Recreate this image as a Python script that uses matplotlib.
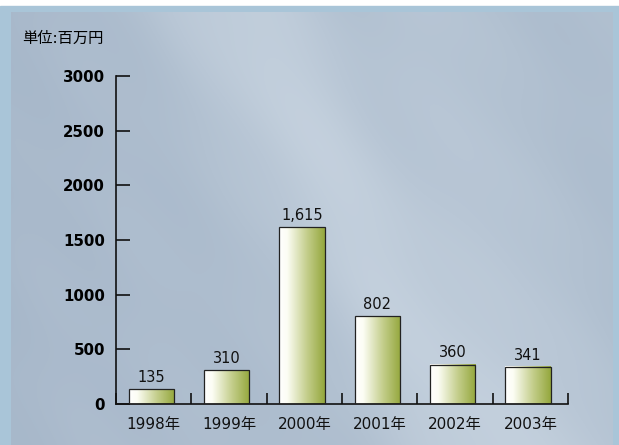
import matplotlib.pyplot as plt
import numpy as np
from matplotlib.colors import LinearSegmentedColormap
from matplotlib.patches import Rectangle

years = ['1998年', '1999年', '2000年', '2001年', '2002年', '2003年']
sales = [135, 310, 1615, 802, 360, 341]
sales_labels = ['135', '310', '1,615', '802', '360', '341']
yticks = [0, 500, 1000, 1500, 2000, 2500, 3000]

plt.rcParams['font.family'] = ['DejaVu Sans', 'Noto Sans CJK JP']

W, H = 619, 445
fig = plt.figure(figsize=(W / 100, H / 100), dpi=100)

# backdrop: white strip, pale blue frame, bluish marble panel
bg = fig.add_axes([0, 0, 1, 1])
bg.add_patch(Rectangle((0, 0), W, H, color='white', zorder=0))
bg.add_patch(Rectangle((0, 6), W, H - 6, color='#a9c5d8', zorder=0.5))

yy, xx = np.mgrid[0:H - 12, 0:602].astype(float)
d = xx - (230 + yy * 0.55)
band = np.exp(-(d / 90.0) ** 2)
band2 = np.exp(-((xx - (420 + yy * 0.35)) / 60.0) ** 2)
left_dark = np.exp(-xx / 140.0)
streak = 0.025 * np.sin(0.05 * (xx - 0.7 * yy)) * np.sin(0.017 * yy + 0.008 * xx)
tex = 0.45 + 0.28 * band + 0.12 * band2 - 0.10 * left_dark + streak
tex = np.clip(tex, 0, 1)
marble = LinearSegmentedColormap.from_list('marble', ['#93a6bd', '#b2c1d1', '#d6e0ea'])
bg.imshow(tex, cmap=marble, vmin=0, vmax=1, extent=[11, 613, H, 12],
          aspect='auto', interpolation='bilinear', zorder=2)
bg.set_xlim(0, W)
bg.set_ylim(H, 0)
bg.axis('off')

# chart area
ax = fig.add_axes([116 / W, 41 / H, (568 - 116) / W, (404 - 76) / H])
ax.set_facecolor('none')

bar_cmap = LinearSegmentedColormap.from_list(
    'bar', [(0, '#ffffff'), (0.18, '#fcfdf4'), (0.6, '#c5cf8e'), (1, '#94a73c')])
grad = np.linspace(0, 1, 256).reshape(1, -1)
width = 0.6
for i, v in enumerate(sales):
    x0 = i - width / 2 - 0.03
    ax.imshow(grad, cmap=bar_cmap, extent=[x0, x0 + width, 0, v],
              aspect='auto', zorder=2)
    ax.add_patch(Rectangle((x0, 0), width, v, fill=False, ec='#222222',
                           lw=0.9, zorder=3))
    ax.annotate(sales_labels[i], (x0 + width / 2, v), xytext=(0, 3),
                textcoords='offset points', ha='center', va='bottom',
                fontsize=10.5, color='#111111')

ax.set_xlim(-0.5, 5.5)
ax.set_ylim(0, 3000)

for s in ['top', 'right']:
    ax.spines[s].set_visible(False)
for s in ['left', 'bottom']:
    ax.spines[s].set_linewidth(1.2)
    ax.spines[s].set_color('#111111')

ax.set_yticks(yticks)
ax.set_yticklabels([str(t) for t in yticks], fontsize=10.8, fontweight='bold')
ax.tick_params(axis='y', direction='in', length=10, width=1.2, pad=8,
               color='#111111')

ax.set_xticks(range(len(years)))
ax.set_xticklabels(years, fontsize=11, color='#111111')
ax.set_xticks(np.arange(-0.5, len(years)), minor=True)
ax.tick_params(axis='x', which='major', length=0, pad=9)
ax.tick_params(axis='x', which='minor', direction='in', length=8, width=1.2,
               color='#111111')

fig.text(22 / W, 1 - 38 / H, '単位:百万円', fontsize=11, va='center', ha='left')

fig.savefig('out.png', dpi=100)
